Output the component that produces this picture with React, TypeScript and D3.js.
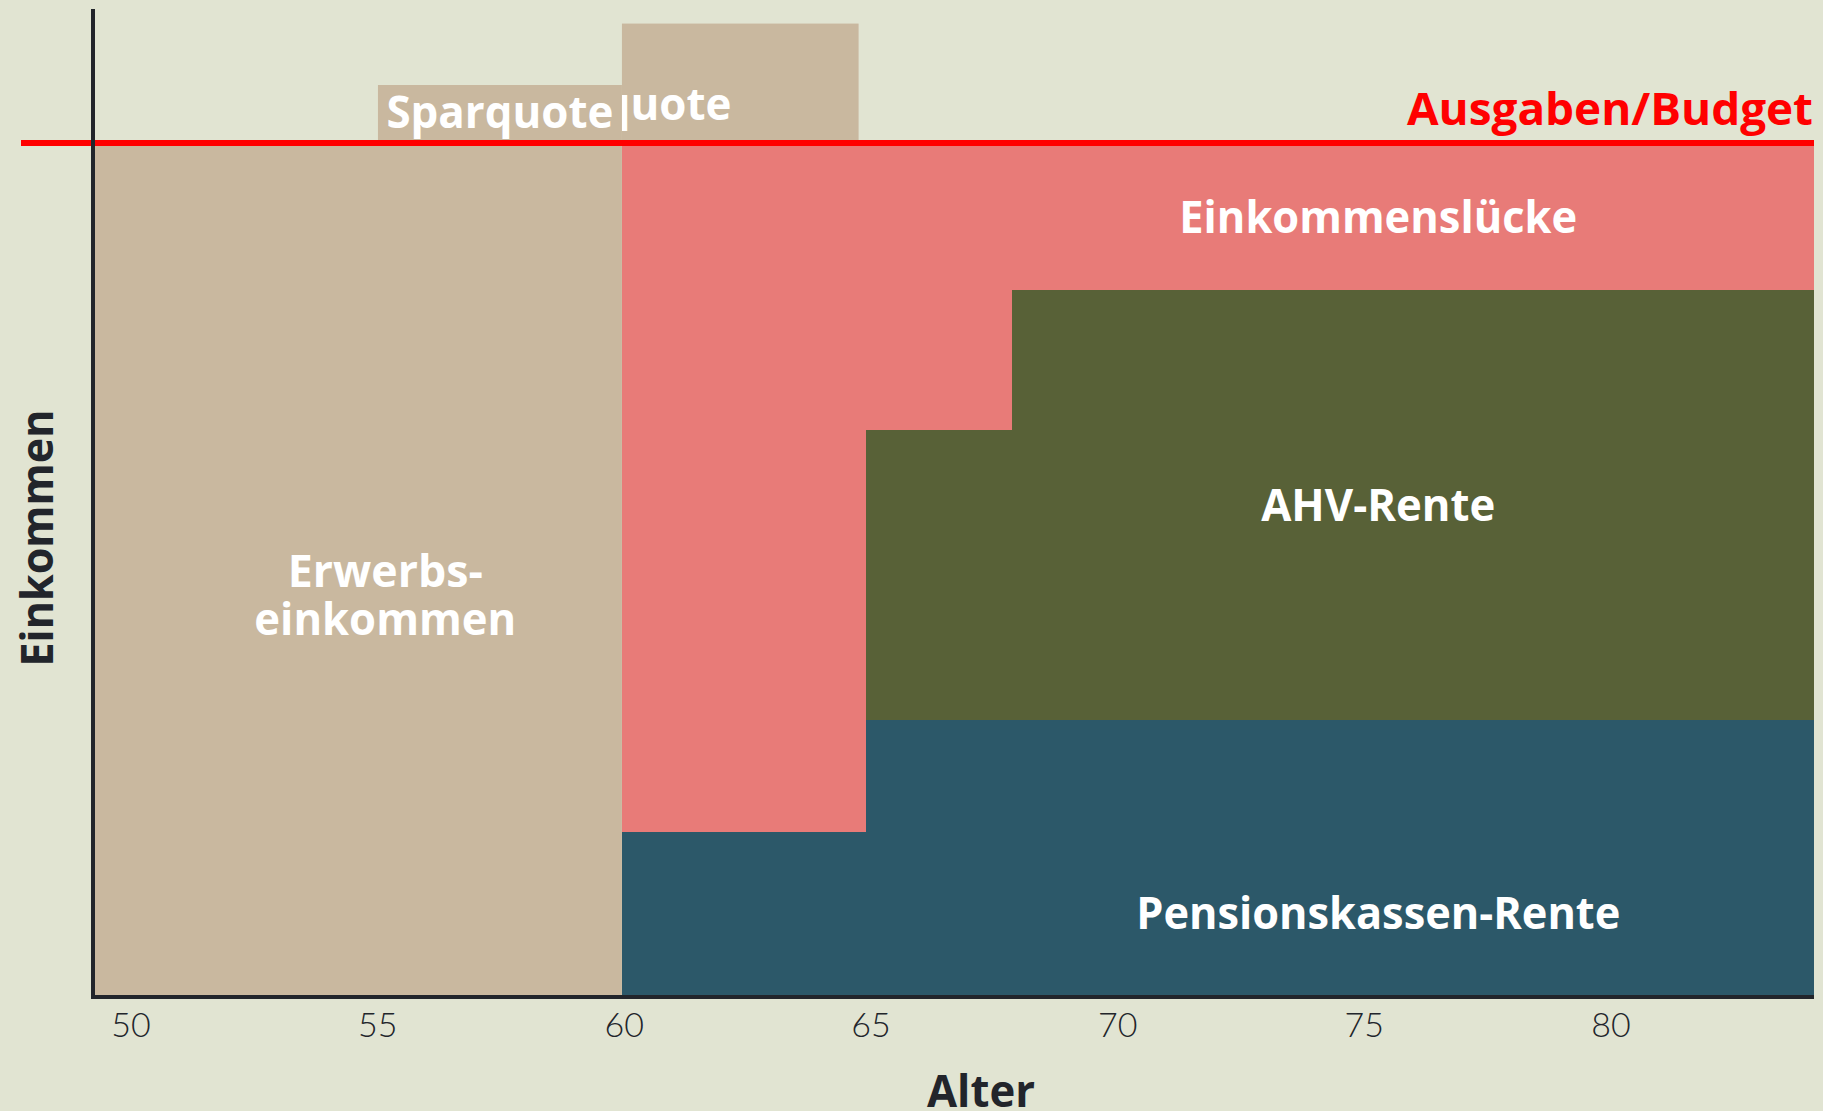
import React, { useEffect, useRef } from "react";
import * as d3 from "d3";

// ages (x) and income levels (y, budget = 100)
const ageMin = 49.16;
const ageMax = 84.43;
const retireAges = [60, 65, 68, ageMax];
const pensionValues = [19.2, 32.4, 32.4];
const ahvValues = [0, 33.9, 50.4];
const budget = 100;
const erwerbsFrom = ageMin;
const erwerbsTo = 60;
const sparFrom = [55, 60];
const sparTo = [60, 64.85];
const sparValues = [6.8, 14];
const xTicks = [50, 55, 60, 65, 70, 75, 80];

const W = 1823;
const H = 1111;
const BG = "#e1e4d2";
const BEIGE = "#c9b89f";
const PINK = "#e87b78";
const GREEN = "#586137";
const TEAL = "#2c5869";
const RED = "#ff0000";
const DARK = "#22252b";
const FONT = "'Open Sans', 'Noto Sans', sans-serif";

export default function App() {
  const ref = useRef<SVGSVGElement | null>(null);

  useEffect(() => {
    document.body.style.margin = "0";
    const svg = d3.select(ref.current);
    svg.selectAll("*").remove();

    const x = d3.scaleLinear().domain([ageMin, ageMax]).range([93, 1814]);
    const y = d3.scaleLinear().domain([0, budget]).range([996, 143]);
    // tick labels sit on a slightly wider grid than the bars in the original
    const xTick = d3.scaleLinear().domain([50, 80]).range([131, 1611]);

    svg.append("rect").attr("width", W).attr("height", H).attr("fill", BG);

    // Erwerbseinkommen
    svg.append("rect")
      .attr("x", x(erwerbsFrom)).attr("y", y(budget))
      .attr("width", x(erwerbsTo) - x(erwerbsFrom)).attr("height", y(0) - y(budget))
      .attr("fill", BEIGE);

    // stacked retirement income
    const rows = pensionValues.map((p, i) => ({
      from: retireAges[i],
      to: retireAges[i + 1],
      pension: p,
      ahv: ahvValues[i],
      gap: budget - p - ahvValues[i],
    }));
    const colors: Record<string, string> = { pension: TEAL, ahv: GREEN, gap: PINK };
    const stacked = d3.stack<any>().keys(["pension", "ahv", "gap"])(rows);
    stacked.forEach(layer => {
      svg.append("g").selectAll("rect").data(layer.filter(d => d[1] > d[0])).join("rect")
        .attr("x", d => x(d.data.from))
        .attr("y", d => y(d[1]))
        .attr("width", d => x(d.data.to) - x(d.data.from))
        .attr("height", d => y(d[0]) - y(d[1]))
        .attr("fill", colors[layer.key])
        .attr("shape-rendering", "crispEdges");
    });

    const label = (txt: string, cx: number, by: number, len: number, color = "#fff", anchor = "middle") =>
      svg.append("text")
        .attr("x", cx).attr("y", by)
        .attr("text-anchor", anchor)
        .attr("textLength", len).attr("lengthAdjust", "spacingAndGlyphs")
        .style("font-family", FONT).style("font-weight", 700).style("font-size", "44px")
        .attr("fill", color)
        .text(txt);

    // Sparquote boxes: second one first, first one drawn over its label
    svg.append("rect")
      .attr("x", x(sparFrom[1])).attr("y", y(budget + sparValues[1]))
      .attr("width", x(sparTo[1]) - x(sparFrom[1])).attr("height", y(budget) - y(budget + sparValues[1]))
      .attr("fill", BEIGE);
    label("Sparquote", x(60) - 4, y(102.7), 227);
    svg.append("rect")
      .attr("x", x(sparFrom[0])).attr("y", y(budget + sparValues[0]))
      .attr("width", x(sparTo[0]) - x(sparFrom[0])).attr("height", y(budget) - y(budget + sparValues[0]))
      .attr("fill", BEIGE);
    label("Sparquote", (x(sparFrom[0]) + x(sparTo[0])) / 2, y(101.8), 227);

    // budget line
    svg.append("line")
      .attr("x1", 21).attr("x2", x(ageMax))
      .attr("y1", y(budget)).attr("y2", y(budget))
      .attr("stroke", RED).attr("stroke-width", 6);
    label("Ausgaben/Budget", 1813, 125, 406, RED, "end");

    label("Einkommenslücke", x(75.5), y(89.45), 398);
    label("AHV-Rente", x(75.5), y(55.7), 234);
    label("Pensionskassen-Rente", x(75.5), y(7.8), 484);
    label("Erwerbs-", x(55.15), y(48.0), 195);
    label("einkommen", x(55.15), y(42.3), 262);

    // axes
    svg.append("line").attr("x1", 93).attr("x2", 93).attr("y1", 9).attr("y2", 999)
      .attr("stroke", DARK).attr("stroke-width", 4);
    svg.append("line").attr("x1", 91).attr("x2", x(ageMax)).attr("y1", 997).attr("y2", 997)
      .attr("stroke", DARK).attr("stroke-width", 4);

    svg.append("g").selectAll("text").data(xTicks).join("text")
      .attr("x", d => xTick(d)).attr("y", 1037)
      .attr("text-anchor", "middle")
      .style("font-family", "Lato, sans-serif").style("font-weight", 300).style("font-size", "34px")
      .attr("fill", DARK)
      .text(d => d);

    svg.append("text")
      .attr("x", 981).attr("y", 1107).attr("text-anchor", "middle")
      .attr("textLength", 108).attr("lengthAdjust", "spacingAndGlyphs")
      .style("font-family", FONT).style("font-weight", 700).style("font-size", "45px")
      .attr("fill", DARK).text("Alter");

    svg.append("text")
      .attr("transform", "translate(53,538) rotate(-90)")
      .attr("text-anchor", "middle")
      .attr("textLength", 257).attr("lengthAdjust", "spacingAndGlyphs")
      .style("font-family", FONT).style("font-weight", 700).style("font-size", "45px")
      .attr("fill", DARK).text("Einkommen");
  }, []);

  return (
    <svg ref={ref} width={W} height={H} style={{ position: "absolute", left: 0, top: 0, display: "block" }} />
  );
}
